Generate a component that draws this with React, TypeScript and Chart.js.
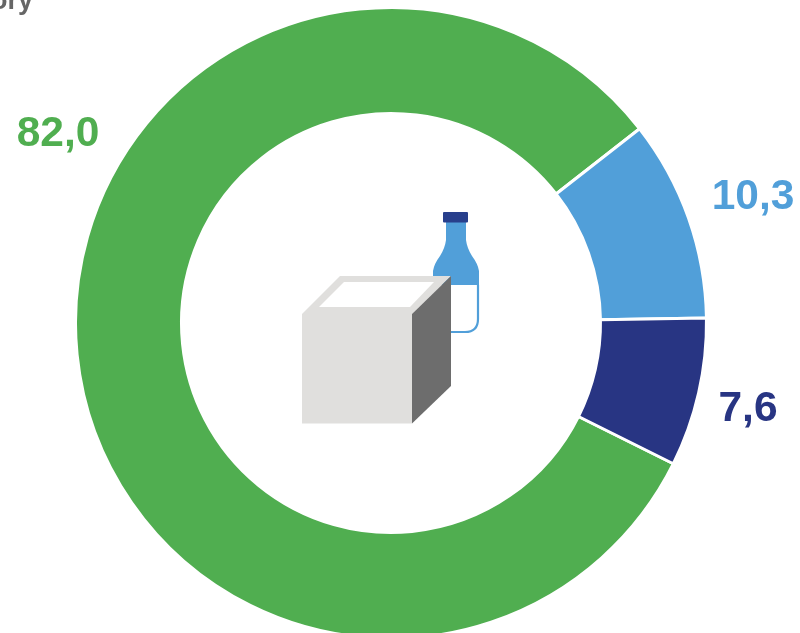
import React, { useEffect, useRef } from "react";
import { Chart, registerables } from "chart.js";

Chart.register(...registerables);

const categories = ["Solid", "Liquid", "Other"];
const values = [82.0, 10.3, 7.6];
const valueLabels = ["82,0", "10,3", "7,6"];
const colors = ["#50ae50", "#519fd9", "#283583"];
const labelCentres = [
  [58, 134],
  [753, 197],
  [748, 409],
];
const FONT = '"Liberation Sans", Arial, sans-serif';

const labelPlugin = {
  id: "sliceLabels",
  afterDraw(chart: Chart) {
    const ctx = chart.ctx;
    ctx.save();
    ctx.font = `bold 42.5px ${FONT}`;
    ctx.textAlign = "center";
    ctx.textBaseline = "middle";
    valueLabels.forEach((t, i) => {
      ctx.fillStyle = colors[i];
      ctx.fillText(t, labelCentres[i][0], labelCentres[i][1]);
    });
    ctx.font = `bold 27px ${FONT}`;
    ctx.textAlign = "right";
    ctx.textBaseline = "alphabetic";
    ctx.fillStyle = "#666666";
    ctx.fillText("ory", 33, 9);
    ctx.restore();
  },
};

export default function App() {
  const ref = useRef<HTMLCanvasElement>(null);
  useEffect(() => {
    const chart = new Chart(ref.current!, {
      type: "doughnut",
      data: {
        labels: categories,
        datasets: [
          {
            data: values,
            backgroundColor: colors,
            borderColor: "#ffffff",
            borderWidth: 3,
            hoverOffset: 0,
          },
        ],
      },
      options: {
        animation: false,
        responsive: false,
        rotation: 116.5,
        cutout: "66.4%",
        layout: { padding: { left: 0, right: 18, top: 6, bottom: 6 } },
        plugins: { legend: { display: false }, tooltip: { enabled: false } },
      },
      plugins: [labelPlugin],
    });
    return () => chart.destroy();
  }, []);

  return (
    <div style={{ position: "fixed", left: 0, top: 0, width: 800, height: 633, overflow: "hidden", background: "#fff" }}>
      <canvas ref={ref} width={800} height={646} style={{ position: "absolute", left: 0, top: 0, width: 800, height: 646 }} />
      <svg width={800} height={633} style={{ position: "absolute", left: 0, top: 0 }}>
        <path d="M446 222 H466 V240 Q467 248 472 256 Q478 264 479 271 V285 H433 V271 Q434 264 440 256 Q445 248 446 240 Z" fill="#519fd9" />
        <path d="M478 285 V319 Q478 332 465 332 H445" fill="none" stroke="#519fd9" strokeWidth={2.2} />
        <rect x={443} y={212} width={25} height={10.5} rx={1} fill="#283f8c" />
        <polygon points="302,314 340,276 451,276 412,314" fill="#e0dfdd" />
        <polygon points="319,307 344,282 434,282 410,307" fill="#ffffff" />
        <rect x={302} y={314} width={110} height={109.5} fill="#e0dfdd" />
        <polygon points="412,314 451,276 451,386 412,423.5" fill="#6d6d6d" />
      </svg>
    </div>
  );
}
